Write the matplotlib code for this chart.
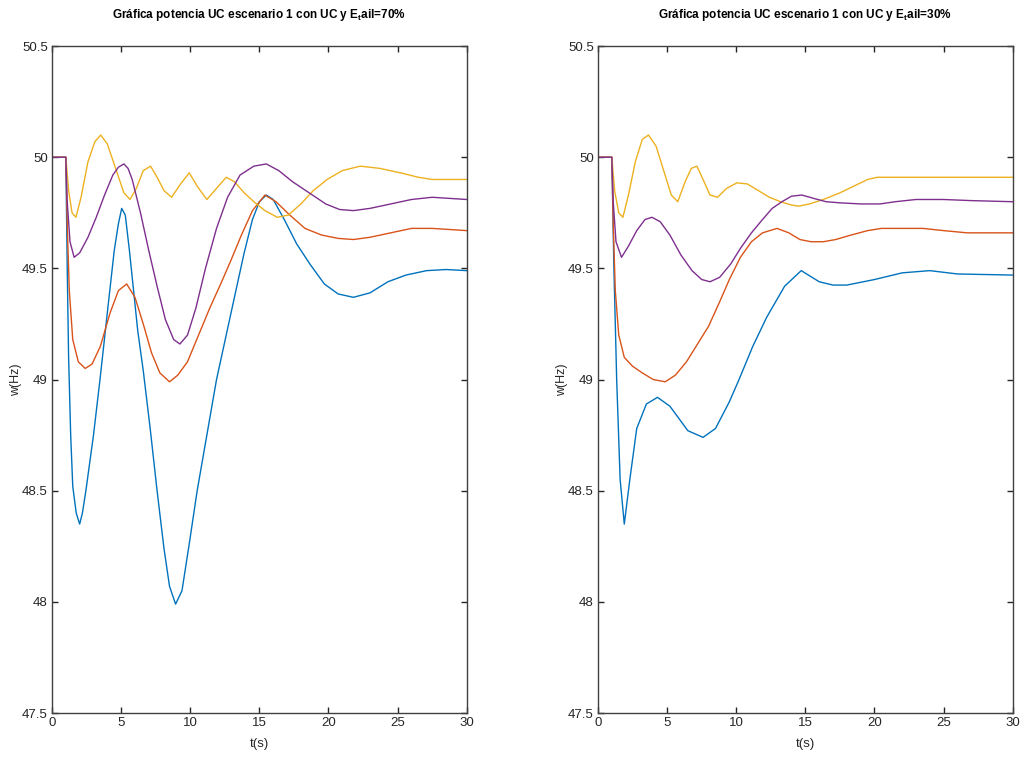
import matplotlib.pyplot as plt
import numpy as np

plt.rcParams['font.family'] = ['Liberation Sans', 'DejaVu Sans']
plt.rcParams['mathtext.fontset'] = 'custom'
plt.rcParams['mathtext.rm'] = 'Liberation Sans:bold'

# region data
# escenario E_tail = 70% (left)
t_a1 = [0, 1, 1.1, 1.2, 1.35, 1.5, 1.75, 2.0, 2.2, 2.45, 3.0, 3.47, 4.0, 4.5, 4.8, 5.04, 5.3, 5.6,
        5.9, 6.2, 6.6, 7.1, 7.6, 8.1, 8.5, 8.94, 9.4, 9.9, 10.5, 11.2, 11.9, 12.6, 13.3, 13.9, 14.5,
        15.0, 15.5, 16.0, 16.8, 17.7, 18.65, 19.7, 20.7, 21.8, 23, 24.3, 25.6, 27.1, 28.5, 30]
w_a1 = [50, 50, 49.5, 49.1, 48.75, 48.52, 48.4, 48.35, 48.4, 48.5, 48.75, 49.0, 49.3, 49.58, 49.7,
        49.77, 49.74, 49.58, 49.4, 49.22, 49.04, 48.78, 48.5, 48.24, 48.07, 47.99, 48.05, 48.25,
        48.5, 48.75, 49.0, 49.2, 49.4, 49.57, 49.72, 49.8, 49.83, 49.81, 49.72, 49.61, 49.52,
        49.43, 49.385, 49.37, 49.39, 49.44, 49.47, 49.49, 49.495, 49.49]

t_a2 = [0, 1, 1.1, 1.25, 1.5, 1.9, 2.4, 2.9, 3.5, 4.2, 4.8, 5.4, 6.0, 6.6, 7.2, 7.8, 8.5, 9.1, 9.8,
        10.6, 11.4, 12.2, 12.9, 13.7, 14.5, 15.4, 16.2, 17.2, 18.3, 19.5, 20.7, 21.8, 23, 24.5, 26,
        27.5, 30]
w_a2 = [50, 50, 49.7, 49.4, 49.18, 49.08, 49.05, 49.07, 49.15, 49.3, 49.4, 49.43, 49.37, 49.25,
        49.12, 49.03, 48.99, 49.02, 49.08, 49.2, 49.32, 49.43, 49.53, 49.65, 49.76, 49.83, 49.8,
        49.74, 49.68, 49.65, 49.635, 49.63, 49.64, 49.66, 49.68, 49.68, 49.67]

t_a3 = [0, 1, 1.2, 1.45, 1.73, 2.1, 2.6, 3.1, 3.52, 4.0, 4.6, 5.2, 5.64, 6.1, 6.6, 7.13, 7.6, 8.1,
        8.65, 9.3, 9.93, 10.5, 11.2, 11.9, 12.6, 13.2, 13.9, 14.6, 15.4, 16.3, 17.1, 18, 18.9, 19.9,
        21, 22.3, 23.7, 25.2, 26.5, 27.5, 30]
w_a3 = [50, 50, 49.85, 49.75, 49.73, 49.82, 49.98, 50.07, 50.1, 50.06, 49.95, 49.84, 49.81, 49.86,
        49.94, 49.96, 49.91, 49.85, 49.82, 49.88, 49.93, 49.87, 49.81, 49.86, 49.91, 49.89, 49.84,
        49.8, 49.76, 49.73, 49.74, 49.79, 49.85, 49.9, 49.94, 49.96, 49.95, 49.93, 49.91, 49.9, 49.9]

t_a4 = [0, 1, 1.1, 1.3, 1.6, 2.0, 2.6, 3.2, 3.8, 4.4, 4.8, 5.2, 5.5, 5.8, 6.4, 7.0, 7.6, 8.2, 8.8,
        9.25, 9.8, 10.4, 11.1, 11.9, 12.7, 13.6, 14.6, 15.5, 16.4, 17.4, 18.6, 19.8, 20.8, 21.8, 23,
        24.5, 26, 27.5, 30]
w_a4 = [50, 50, 49.8, 49.62, 49.55, 49.57, 49.64, 49.73, 49.83, 49.92, 49.955, 49.97, 49.95, 49.9,
        49.75, 49.58, 49.42, 49.27, 49.18, 49.16, 49.2, 49.32, 49.5, 49.68, 49.82, 49.92, 49.96,
        49.97, 49.94, 49.89, 49.84, 49.79, 49.765, 49.76, 49.77, 49.79, 49.81, 49.82, 49.81]

# escenario E_tail = 30% (right)
t_b1 = [0, 1, 1.15, 1.35, 1.6, 1.9, 2.3, 2.8, 3.5, 4.3, 5.2, 6.5, 7.6, 8.5, 9.5, 10.2, 11.2, 12.2,
        13.5, 14.7, 16, 17, 18, 20, 22, 24, 26, 30]
w_b1 = [50, 50, 49.5, 49.0, 48.55, 48.35, 48.55, 48.78, 48.89, 48.92, 48.88, 48.77, 48.74, 48.78,
        48.9, 49.0, 49.15, 49.28, 49.42, 49.49, 49.44, 49.425, 49.425, 49.45, 49.48, 49.49, 49.475,
        49.47]

t_b2 = [0, 1, 1.1, 1.25, 1.5, 1.9, 2.5, 3.2, 4.0, 4.86, 5.6, 6.4, 7.2, 8.0, 8.8, 9.5, 10.3, 11.1,
        11.9, 12.95, 13.8, 14.6, 15.4, 16.3, 17.2, 18.3, 19.5, 20.5, 23.5, 25, 26.7, 30]
w_b2 = [50, 50, 49.7, 49.4, 49.2, 49.1, 49.06, 49.03, 49.0, 48.99, 49.02, 49.08, 49.16, 49.24,
        49.35, 49.45, 49.55, 49.62, 49.66, 49.68, 49.66, 49.63, 49.62, 49.62, 49.63, 49.65, 49.67,
        49.68, 49.68, 49.67, 49.66, 49.66]

t_b3 = [0, 1, 1.2, 1.5, 1.8, 2.2, 2.7, 3.2, 3.65, 4.2, 4.8, 5.3, 5.77, 6.3, 6.75, 7.15, 7.6, 8.1,
        8.65, 9.3, 10.05, 10.8, 11.6, 12.4, 13.2, 14.0, 14.5, 15.3, 16.3, 17.5, 18.5, 19.5, 20.2, 30]
w_b3 = [50, 50, 49.85, 49.75, 49.73, 49.83, 49.98, 50.08, 50.1, 50.05, 49.93, 49.83, 49.8, 49.89,
        49.95, 49.96, 49.9, 49.83, 49.82, 49.86, 49.885, 49.88, 49.85, 49.82, 49.8, 49.785, 49.78,
        49.79, 49.81, 49.84, 49.87, 49.9, 49.91, 49.91]

t_b4 = [0, 1, 1.1, 1.3, 1.7, 2.2, 2.8, 3.4, 3.9, 4.5, 5.2, 6.0, 6.8, 7.5, 8.1, 8.8, 9.6, 10.3, 11.1,
        11.9, 12.6, 13.3, 14.0, 14.75, 15.6, 16.5, 17.5, 19, 20.4, 21.5, 23, 25, 27, 30]
w_b4 = [50, 50, 49.8, 49.62, 49.55, 49.6, 49.67, 49.72, 49.73, 49.71, 49.65, 49.56, 49.49, 49.45,
        49.44, 49.46, 49.52, 49.59, 49.66, 49.72, 49.77, 49.8, 49.825, 49.83, 49.815, 49.8, 49.795,
        49.79, 49.79, 49.8, 49.81, 49.81, 49.805, 49.8]

titles = [r"Gráfica potencia UC escenario 1 con UC y E$_\mathrm{t}$ail=70%",
          r"Gráfica potencia UC escenario 1 con UC y E$_\mathrm{t}$ail=30%"]
colors = ["#0072BD", "#D95319", "#EDB120", "#7E2F8E"]
# endregion

panels = [
    [(t_a1, w_a1), (t_a2, w_a2), (t_a3, w_a3), (t_a4, w_a4)],
    [(t_b1, w_b1), (t_b2, w_b2), (t_b3, w_b3), (t_b4, w_b4)],
]

fig = plt.figure(figsize=(10.24, 7.71), dpi=100)
lefts = [0.0508, 0.584]

for i in range(2):
    ax = fig.add_axes([lefts[i], 0.0752, 0.405, 0.865])
    for (t, w), c in zip(panels[i], colors):
        ax.plot(t, w, color=c, lw=1)
    ax.set_xlim(0, 30)
    ax.set_ylim(47.5, 50.5)
    ax.set_xticks([0, 5, 10, 15, 20, 25, 30])
    ax.set_yticks([47.5, 48, 48.5, 49, 49.5, 50, 50.5])
    ax.set_yticklabels(["47.5", "48", "48.5", "49", "49.5", "50", "50.5"])
    ax.tick_params(direction="in", top=True, right=True, length=4, width=1,
                   labelsize=9.5, colors="#262626", pad=3)
    for s in ax.spines.values():
        s.set_color("#404040")
        s.set_linewidth(1)
    ax.set_title(titles[i], fontsize=8.5, fontweight="bold", pad=20)
    ax.set_xlabel("t(s)", fontsize=9.5, color="#262626", labelpad=6)
    ax.set_ylabel("w(Hz)", fontsize=9, color="#262626", labelpad=0)

fig.savefig("out.png", dpi=100)
